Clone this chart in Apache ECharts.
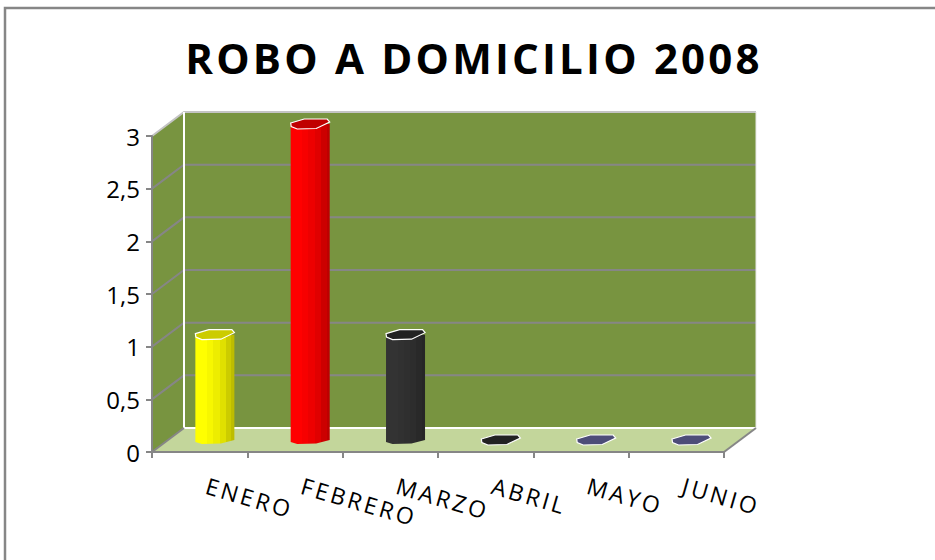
<!DOCTYPE html>
<html>
<head>
<meta charset="utf-8">
<script src="https://cdn.jsdelivr.net/npm/echarts@6/dist/echarts.min.js"></script>
<style>
html, body { margin: 0; background: #fff; }
#chart { width: 935px; height: 560px; position: relative; }
/* title and category labels are widely spaced in the original */
#chart text[style*="42px"] { letter-spacing: 3.2px; }
#chart text[style*="23px"] { letter-spacing: 3px; }
</style>
</head>
<body>
<div id="chart"></div>
<script>
const categories = ['ENERO', 'FEBRERO', 'MARZO', 'ABRIL', 'MAYO', 'JUNIO'];
const robos = [1, 3, 1, 0, 0, 0];
const gridValues = [0.5, 1, 1.5, 2, 2.5];

const sideColors = ['#ffff00', '#ff0000', '#333333', '#222222', '#4d4d78', '#4d4d78'];
const topColors = ['#cccc00', '#c00000', '#222222', '#222222', '#4d4d78', '#4d4d78'];

// false 3D: how far the back wall sits from the front axes
const DEPTH_X = 32;
const DEPTH_Y = -24;
const AXIS_GRAY = '#868686';

const poly = (points, fill, z2) => ({
    type: 'polygon',
    z2: z2,
    shape: { points: points },
    style: { fill: fill }
});

const line = (points, stroke, width, z2) => ({
    type: 'polyline',
    z2: z2,
    shape: { points: points },
    style: { fill: 'none', stroke: stroke, lineWidth: width }
});

const renderRoom = (params, api) => {
    const { x, y, width, height } = params.coordSys;
    const bottom = y + height;
    const right = x + width;
    const bx = x + DEPTH_X;
    const bRight = right + DEPTH_X;
    const by = y + DEPTH_Y;
    const bBottom = bottom + DEPTH_Y;

    const children = [
        poly([[bx, by], [bRight, by], [bRight, bBottom], [bx, bBottom]], '#789440', 1),
        poly([[x, y], [bx, by], [bx, bBottom], [x, bottom]], '#789440', 1),
        poly([[x, bottom], [bx, bBottom], [bRight, bBottom], [right, bottom]], '#c3d69b', 1),
        line([[x, y], [bx, by], [bRight, by]], '#c4c4c4', 2, 3),
        line([[bx, by], [bx, bBottom]], '#ffffff', 2, 3),
        line([[bx, bBottom], [bRight, bBottom]], '#ffffff', 2, 3),
        line([[bRight, by], [bRight, bBottom]], '#e8e8e8', 1, 3),
        line([[x, bottom], [bx, bBottom]], AXIS_GRAY, 2, 3),
        line([[right, bottom], [bRight, bBottom]], AXIS_GRAY, 2, 3)
    ];
    gridValues.forEach((v) => {
        const gy = api.coord([0, v])[1];
        children.push(line([[x, gy], [bx, gy + DEPTH_Y], [bRight, gy + DEPTH_Y]], AXIS_GRAY, 2, 2));
    });
    return { type: 'group', children: children };
};

const shade = (hex, k) => {
    const c = echarts.color.parse(hex);
    return `rgb(${Math.round(c[0] * k)},${Math.round(c[1] * k)},${Math.round(c[2] * k)})`;
};

// vertical facets of the bar, brightest on the left
const facets = (hex) => {
    const steps = [[0, 1], [0.3, 0.97], [0.45, 0.93], [0.62, 0.88], [0.78, 0.8], [0.92, 0.74], [1, 0.74]];
    const stops = [];
    steps.forEach((s, i) => {
        stops.push({ offset: s[0], color: shade(hex, s[1]) });
        if (i < steps.length - 1) stops.push({ offset: steps[i + 1][0], color: shade(hex, s[1]) });
    });
    return new echarts.graphic.LinearGradient(0, 0, 1, 0, stops);
};

const renderBar = (params, api) => {
    const i = api.value(0);
    const value = api.value(1);
    const band = api.size([1, 0])[0];
    const k = band / 95.3;
    const cx = api.coord([i, 0])[0] + DEPTH_X / 2 - 0.8;
    const topY = api.coord([i, value])[1] + DEPTH_Y / 2;
    const baseY = api.coord([i, 0])[1] + DEPTH_Y / 2;

    const outline = [[-19.5, -1], [-6, -5], [17, -5], [19.5, -2], [6, 4.5], [-13, 5], [-19, 2.5]]
        .map((p) => [cx + p[0] * k, topY + p[1]]);
    const children = [];
    if (value > 0) {
        const body = [
            [cx - 19.5 * k, topY], [cx + 19.5 * k, topY],
            [cx + 19.5 * k, baseY], [cx + 6 * k, baseY + 3.5],
            [cx - 13 * k, baseY + 4], [cx - 19.5 * k, baseY + 2]
        ];
        children.push(poly(body, facets(sideColors[i]), 1));
    }
    children.push({
        type: 'polygon',
        z2: 2,
        shape: { points: outline },
        style: { fill: topColors[i], stroke: '#ffffff', lineWidth: 1.2 }
    });
    return { type: 'group', children: children };
};

const chart = echarts.init(document.getElementById('chart'), null, { renderer: 'svg' });
const FONT = '"Open Sans", sans-serif';

chart.setOption({
    animation: false,
    backgroundColor: '#ffffff',
    title: {
        text: 'ROBO A DOMICILIO 2008',
        left: 469,
        top: 31,
        textAlign: 'center',
        textStyle: { fontFamily: FONT, fontSize: 42, fontWeight: 'bold', color: '#000000' }
    },
    grid: { left: 152, right: 211, top: 136, bottom: 108 },
    xAxis: {
        type: 'category',
        data: categories,
        z: 5,
        axisLine: { lineStyle: { color: AXIS_GRAY, width: 2 } },
        axisTick: { show: true, length: 6, lineStyle: { color: AXIS_GRAY, width: 2 } },
        axisLabel: {
            rotate: -16,
            margin: 31,
            padding: [0, 0, 0, 7],
            interval: 0,
            fontFamily: FONT,
            fontSize: 23,
            color: '#000000'
        }
    },
    yAxis: {
        type: 'value',
        min: 0,
        max: 3,
        interval: 0.5,
        z: 5,
        splitLine: { show: false },
        axisLine: { show: true, lineStyle: { color: AXIS_GRAY, width: 2 } },
        axisTick: { show: true, length: 6, lineStyle: { color: AXIS_GRAY, width: 2 } },
        axisLabel: {
            margin: 12,
            fontFamily: FONT,
            fontSize: 24,
            color: '#000000',
            formatter: (v) => String(v).replace('.', ',')
        }
    },
    series: [
        { type: 'custom', z: 1, silent: true, data: [0], renderItem: renderRoom },
        {
            type: 'custom',
            z: 6,
            encode: { x: 0, y: 1 },
            data: robos.map((v, i) => [i, v]),
            renderItem: renderBar
        }
    ],
    graphic: [{
        type: 'polyline',
        silent: true,
        shape: { points: [[5, 560], [5, 8], [935, 8]] },
        style: { fill: 'none', stroke: '#868686', lineWidth: 2.5 }
    }]
});
</script>
</body>
</html>
